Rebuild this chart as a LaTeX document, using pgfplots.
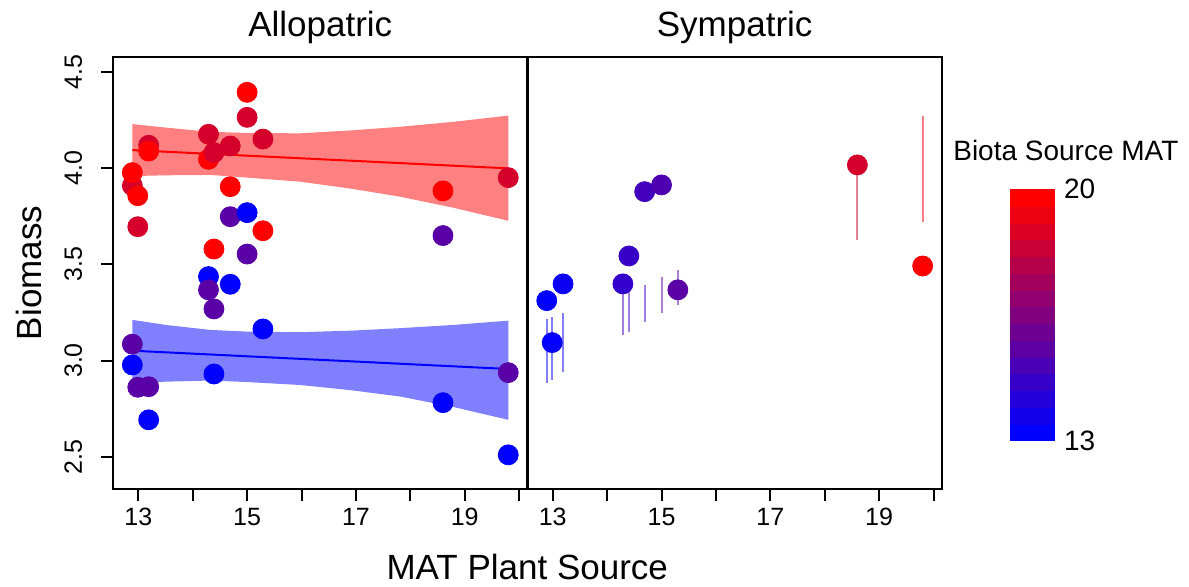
\documentclass[border=0pt]{standalone}
\usepackage{fontspec}
\setmainfont{Liberation Sans}
\usepackage{pgfplots}
\pgfplotsset{compat=1.18}
\definecolor{bandred}{RGB}{255,128,128}
\definecolor{bandblue}{RGB}{128,128,255}
\definecolor{sgblue}{RGB}{8,0,247}
\definecolor{sgpurp}{RGB}{65,0,190}
\definecolor{sgpurpB}{RGB}{85,0,170}
\definecolor{sgcrim}{RGB}{211,0,44}
\definecolor{sgred}{RGB}{240,0,15}
\pgfplotsset{
  /pgf/number format/assume math mode=true,
  colormap={br}{rgb255=(0,0,255) rgb255=(255,0,0)},
  panel/.style={
    scale only axis, width=207pt, height=216.3pt,
    xmin=12.54, xmax=20.15, ymin=2.331, ymax=4.578,
    xtick={13,14,15,16,17,18,19,20},
    xticklabels={13,,15,,17,,19,},
    tick align=outside, major tick length=6pt,
    xtick pos=left, ytick pos=left,
    axis line style={line width=1pt},
    every tick/.style={line width=1pt, black},
    tick label style={font=\fontsize{12.5}{13}\selectfont},
    point meta min=12.89, point meta max=19.8,
    title style={font=\fontsize{17.5}{18}\selectfont, anchor=base, at={(axis description cs:0.5,1.019)}},
    clip=false,
  },
  pts/.style={scatter, only marks, mark=*, mark size=5pt, scatter src=explicit,
    scatter/use mapped color={draw=mapped color, fill=mapped color}},
  seg/.style={opacity=0.5, line width=1pt},
  band/.style={fill=#1, draw=#1, line width=0.3pt},
}
\begin{document}
\begin{tikzpicture}
\path[use as bounding box] (-56.65pt,-48.35pt) rectangle (537.85pt,244.65pt);
% ---------------- Allopatric ----------------
\begin{axis}[panel, name=left, at={(0,0)}, anchor=south west,
  title={Allopatric},
  ytick={2.5,3.0,3.5,4.0,4.5},
  yticklabel style={rotate=90, anchor=south, /pgf/number format/.cd, fixed, fixed zerofill, precision=1},
  yticklabel shift=6pt,
  xlabel={MAT Plant Source},
  xlabel style={font=\fontsize{17.5}{18}\selectfont, at={(axis description cs:1,0)}, anchor=base, yshift=-45.1pt},
  ylabel={Biomass},
  ylabel style={font=\fontsize{17.5}{18}\selectfont, at={(axis description cs:-0.1734,0.5)}, anchor=base, rotate=0},
]
% confidence bands
\addplot[fill=bandred, draw=none] coordinates {
 (12.89,4.228) (13.5,4.210) (14.32,4.188) (15.0,4.182) (15.97,4.180) (16.9,4.195) (17.81,4.214) (18.8,4.240) (19.8,4.272)
 (19.8,3.726) (18.8,3.793) (17.81,3.851) (16.9,3.893) (15.97,3.929) (15.0,3.950) (14.32,3.964) (13.5,3.962) (12.89,3.958)};
\addplot[fill=bandblue, draw=none] coordinates {
 (12.89,3.211) (13.5,3.185) (14.32,3.159) (15.0,3.150) (15.97,3.147) (16.9,3.155) (17.81,3.168) (18.8,3.185) (19.8,3.207)
 (19.8,2.692) (18.8,2.758) (17.81,2.813) (16.9,2.846) (15.97,2.873) (15.0,2.888) (14.32,2.896) (13.5,2.890) (12.89,2.882)};
\addplot[red, line width=1pt] coordinates {(12.89,4.093) (19.8,3.998)};
\addplot[blue, line width=1pt] coordinates {(12.89,3.051) (19.8,2.956)};
\addplot[pts] table[meta=c] {
x y c
12.89 3.908 18.6
12.89 3.976 19.8
12.89 3.085 15.29
12.89 2.977 12.89
12.99 3.695 18.6
12.99 3.856 19.8
12.99 2.861 15.29
13.19 4.118 18.6
13.19 4.088 19.8
13.19 2.864 15.29
13.19 2.692 12.89
14.29 4.045 19.8
14.29 4.175 18.6
14.29 3.436 12.89
14.29 3.367 15.29
14.39 3.579 19.8
14.39 4.080 18.6
14.39 3.268 15.29
14.39 2.930 12.89
14.69 3.903 19.8
14.69 4.114 18.6
14.69 3.747 15.29
14.69 3.396 12.89
15.0 4.393 19.8
15.0 4.263 18.6
15.0 3.768 12.89
15.0 3.553 15.29
15.29 3.674 19.8
15.29 4.150 18.6
15.29 3.164 12.89
18.6 3.881 19.8
18.6 3.649 15.29
18.6 2.781 12.89
19.8 3.950 18.6
19.8 2.937 15.29
19.8 2.510 12.89
};
\end{axis}
% ---------------- Sympatric ----------------
\begin{axis}[panel, name=right, at={(207.2pt,0)}, anchor=south west,
  title={Sympatric},
  ytick=\empty,
]
\addplot[sgblue, seg] coordinates {(12.89,2.882) (12.89,3.216)};
\addplot[sgblue, seg] coordinates {(12.99,2.899) (12.99,3.225)};
\addplot[sgblue, seg] coordinates {(13.19,2.939) (13.19,3.246)};
\addplot[sgpurp, seg] coordinates {(14.29,3.133) (14.29,3.40)};
\addplot[sgpurp, seg] coordinates {(14.40,3.147) (14.40,3.357)};
\addplot[sgpurp, seg] coordinates {(14.69,3.199) (14.69,3.392)};
\addplot[sgpurpB, seg] coordinates {(15.0,3.249) (15.0,3.432)};
\addplot[sgpurpB, seg] coordinates {(15.3,3.289) (15.3,3.470)};
\addplot[sgcrim, seg] coordinates {(18.6,3.626) (18.6,4.0)};
\addplot[sgred, seg] coordinates {(19.8,3.721) (19.8,4.270)};
\addplot[pts] table[meta=c] {
x y c
12.89 3.311 12.89
12.99 3.093 12.99
13.19 3.398 13.19
14.29 3.398 14.29
14.40 3.543 14.40
14.69 3.877 14.69
15.0 3.912 15.0
15.3 3.367 15.3
18.6 4.016 18.6
19.8 3.491 19.8
};
\end{axis}
% ---------------- colour key ----------------
\begin{axis}[name=cbar, at={(448.35pt,24.3pt)}, anchor=south west,
  scale only axis, width=22pt, height=125.7pt,
  xmin=0, xmax=1, ymin=0, ymax=15,
  axis line style={draw=none}, xtick=\empty,
  ytick={0,15}, yticklabels={13,20}, ytick pos=right, yticklabel pos=right,
  major tick length=0pt,
  yticklabel style={font=\fontsize{14}{14}\selectfont, anchor=west, xshift=1.5pt},
  title={Biota Source MAT},
  title style={font=\fontsize{14}{14}\selectfont, anchor=base, at={(axis description cs:1.27,1.067)}},
  clip=false,
]
\addplot[band=red!0!blue]   coordinates {(0,0) (1,0) (1,1) (0,1)};
\addplot[band=red!7!blue]   coordinates {(0,1) (1,1) (1,2) (0,2)};
\addplot[band=red!14!blue]  coordinates {(0,2) (1,2) (1,3) (0,3)};
\addplot[band=red!21!blue]  coordinates {(0,3) (1,3) (1,4) (0,4)};
\addplot[band=red!29!blue]  coordinates {(0,4) (1,4) (1,5) (0,5)};
\addplot[band=red!36!blue]  coordinates {(0,5) (1,5) (1,6) (0,6)};
\addplot[band=red!43!blue]  coordinates {(0,6) (1,6) (1,7) (0,7)};
\addplot[band=red!50!blue]  coordinates {(0,7) (1,7) (1,8) (0,8)};
\addplot[band=red!57!blue]  coordinates {(0,8) (1,8) (1,9) (0,9)};
\addplot[band=red!64!blue]  coordinates {(0,9) (1,9) (1,10) (0,10)};
\addplot[band=red!71!blue]  coordinates {(0,10) (1,10) (1,11) (0,11)};
\addplot[band=red!79!blue]  coordinates {(0,11) (1,11) (1,12) (0,12)};
\addplot[band=red!86!blue]  coordinates {(0,12) (1,12) (1,13) (0,13)};
\addplot[band=red!93!blue]  coordinates {(0,13) (1,13) (1,14) (0,14)};
\addplot[band=red!100!blue] coordinates {(0,14) (1,14) (1,15) (0,15)};
\end{axis}
\end{tikzpicture}
\end{document}
